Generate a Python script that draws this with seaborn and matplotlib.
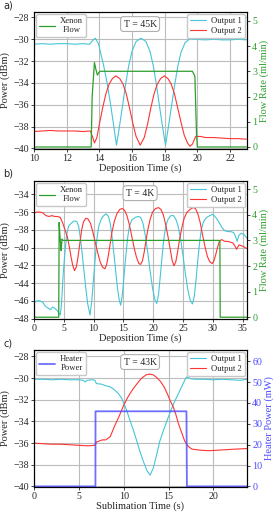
import matplotlib
matplotlib.use("Agg")
import matplotlib.pyplot as plt
import seaborn as sns

# ---------------- Panel a (T = 45K) ----------------
a_t_out1 = [10.0, 10.5, 11.0, 11.5, 12.0, 12.5, 13.0, 13.4, 13.6, 13.75, 13.95, 14.04, 14.25, 14.45, 14.65, 14.85,
            15.05, 15.2, 15.4, 15.6, 15.8, 16.0, 16.25, 16.55, 16.85, 17.1, 17.3, 17.5, 17.7, 17.9, 18.05, 18.2,
            18.4, 18.6, 18.8, 19.0, 19.25, 19.55, 19.8, 20.5, 21.0, 21.5, 22.0, 22.5, 23.0]
a_out1 = [-30.45, -30.4, -30.45, -30.4, -30.4, -30.45, -30.4, -30.45, -30.1, -29.9, -30.4, -31.0, -32.3, -33.8, -35.6, -37.6,
          -39.7, -38.3, -36.3, -34.2, -32.4, -31.1, -30.2, -29.9, -30.2, -31.1, -32.4, -34.2, -36.3, -38.3, -39.7, -38.3,
          -36.3, -34.3, -32.5, -31.2, -30.3, -29.95, -30.0, -30.05, -30.0, -30.05, -30.05, -30.0, -30.05]
a_t_out2 = [10.0, 10.5, 11.0, 11.5, 12.0, 12.5, 13.0, 13.45, 13.6, 13.7, 13.85, 14.0, 14.2, 14.4, 14.6, 14.8, 15.0, 15.25,
            15.45, 15.65, 15.85, 16.05, 16.25, 16.5, 16.75, 16.95, 17.15, 17.35, 17.55, 17.75, 17.98, 18.2, 18.4,
            18.6, 18.8, 19.0, 19.2, 19.4, 19.55, 19.7, 19.9, 20.2, 20.5, 21.0, 21.5, 22.0, 22.5, 23.0]
a_out2 = [-38.45, -38.4, -38.35, -38.4, -38.4, -38.4, -38.45, -38.4, -39.0, -39.5, -39.0, -37.8, -36.3, -35.0, -34.1, -33.6, -33.35, -33.6,
          -34.1, -35.0, -36.3, -37.7, -38.9, -39.7, -39.0, -37.8, -36.3, -35.0, -34.1, -33.6, -33.35, -33.6, -34.1,
          -35.0, -36.3, -37.6, -38.8, -39.5, -39.8, -39.6, -38.9, -38.9, -39.0, -39.0, -39.05, -39.1, -39.1, -39.15]
a_t_flow = [10.0, 13.5, 13.56, 13.7, 13.78, 13.88, 13.97, 14.05, 19.7, 19.85, 19.95, 20.0, 23.0]
a_flow = [0.0, 0.0, 2.0, 3.35, 3.1, 2.85, 2.95, 3.0, 3.0, 2.8, 0.5, 0.0, 0.0]

# ---------------- Panel b (T = 4K) ----------------
b_t_out1 = [0, 0.5, 1.0, 1.5, 1.9, 2.3, 2.8, 3.1, 3.4, 3.9, 4.2, 4.4, 4.6, 4.9, 5.2, 5.5, 5.8, 6.2, 6.6, 6.9, 7.2, 7.5,
            7.8, 8.1, 8.4, 8.7, 9.0, 9.4, 9.7, 10.0, 10.3, 10.6, 10.9, 11.3, 11.7, 12.1, 12.5, 12.8, 13.1, 13.4,
            13.7, 14.0, 14.3, 14.55, 14.8, 15.1, 15.4, 15.7, 16.0, 16.4, 17.0, 17.5, 17.9, 18.3, 18.7, 19.1, 19.5,
            19.9, 20.3, 20.6, 20.9, 21.2, 21.5, 21.8, 22.1, 22.5, 23.0, 23.4, 23.8, 24.2, 24.6, 25.0, 25.4, 25.8,
            26.2, 26.6, 26.9, 27.2, 27.5, 27.8, 28.1, 28.5, 29.0, 29.5, 30.0, 30.5, 31.0, 31.5, 32.0, 32.5, 33.0,
            33.5, 33.8, 34.1, 34.4, 34.8, 35.2, 35.7, 36.0]
b_out1 = [-46.2, -46.0, -46.0, -46.2, -46.6, -46.8, -47.0, -46.7, -46.8, -47.1, -47.4, -47.6, -46.5, -43.0, -40.5, -38.5, -37.6, -37.3, -37.05, -37.0, -37.1, -37.6,
          -39.0, -40.8, -42.7, -44.6, -46.3, -47.6, -46.0, -43.5, -41.0, -38.8, -37.5, -36.8, -36.4, -36.2, -36.5, -37.3, -38.8, -40.6,
          -42.6, -44.5, -45.9, -46.5, -45.5, -43.3, -41.0, -39.0, -37.6, -36.9, -36.6, -36.5, -36.6, -37.3, -38.7, -40.6, -42.7,
          -44.6, -45.9, -46.3, -45.3, -43.2, -41.0, -39.0, -37.6, -36.8, -36.4, -36.4, -36.8, -37.6, -39.0, -40.9, -42.9, -44.7,
          -45.9, -46.35, -45.5, -43.6, -41.4, -39.4, -37.9, -37.0, -36.6, -36.4, -36.25, -36.6, -37.1, -37.7, -38.1, -38.2, -38.2,
          -38.3, -38.7, -39.3, -38.6, -38.4, -38.5, -38.9, -39.1]
b_t_out2 = [0, 0.5, 1.0, 1.5, 2.0, 2.5, 3.0, 3.5, 4.0, 4.4, 4.8, 5.2, 5.6, 5.9, 6.2, 6.5, 6.8, 7.1, 7.4, 7.7, 8.0, 8.3,
            8.7, 9.1, 9.5, 9.9, 10.3, 10.7, 11.1, 11.5, 11.9, 12.2, 12.5, 12.8, 13.1, 13.5, 13.9, 14.4, 14.8, 15.2,
            15.6, 16.0, 16.4, 16.8, 17.2, 17.6, 17.9, 18.2, 18.5, 18.8, 19.1, 19.5, 19.9, 20.4, 20.9, 21.3, 21.7,
            22.1, 22.5, 22.9, 23.2, 23.5, 23.8, 24.1, 24.4, 24.8, 25.2, 25.7, 26.2, 26.7, 27.1, 27.5, 27.9, 28.3,
            28.7, 29.1, 29.5, 29.9, 30.2, 30.5, 30.8, 31.1, 31.5, 32.0, 32.5, 33.0, 33.4, 33.7, 34.0, 34.4, 34.8,
            35.2, 35.7, 36.0]
b_out2 = [-36.1, -36.0, -36.0, -36.1, -36.4, -36.5, -36.4, -36.5, -36.5, -36.6, -37.2, -38.0, -38.8, -39.8, -41.0, -42.0, -42.6, -42.2, -41.0, -39.5, -38.0, -37.1,
          -36.7, -36.8, -37.3, -38.3, -39.5, -40.6, -41.6, -42.2, -42.4, -41.9, -40.8, -39.5, -38.2, -37.0, -36.2, -35.7, -35.6, -35.8,
          -36.4, -37.4, -38.7, -40.0, -41.1, -41.8, -41.9, -41.5, -40.5, -39.2, -38.0, -36.8, -36.0, -35.6, -35.5, -35.7, -36.3,
          -37.4, -38.8, -40.3, -41.5, -42.05, -41.6, -40.5, -39.2, -37.8, -36.7, -36.0, -35.7, -35.5, -35.6, -36.2, -37.2, -38.6,
          -39.9, -41.0, -41.6, -41.8, -41.5, -40.8, -40.0, -39.3, -39.1, -39.3, -39.3, -39.4, -39.5, -39.8, -40.2, -39.7, -39.8,
          -39.9, -40.1, -40.1]
b_t_flow = [0, 4.15, 4.22, 4.32, 4.45, 4.55, 4.7, 4.85, 31.2, 31.25, 36.0]
b_flow = [0.0, 0.0, 3.7, 3.3, 2.9, 2.6, 3.05, 3.0, 3.0, 0.0, 0.0]

# ---------------- Panel c (T = 43K) ----------------
c_t_out1 = [0, 1, 2, 3, 4, 5, 5.5, 5.7, 5.9, 6.5, 6.8, 6.95, 7.5, 8.0, 8.5, 9.0, 9.4, 9.8, 10.3, 10.7, 11.1, 11.5, 11.8,
            12.2, 12.6, 12.95, 13.3, 13.7, 14.0, 14.4, 14.8, 15.2, 15.6, 16.0, 16.4, 16.8, 17.0, 17.5, 18, 19, 20, 21,
            22, 23, 23.75]
c_out1 = [-30.1, -30.1, -30.15, -30.1, -30.15, -30.15, -30.2, -30.35, -30.2, -30.15, -30.2, -30.5, -30.55, -30.7, -30.8, -31.1, -31.4, -31.9, -32.9, -33.9, -34.85, -35.9, -36.75,
          -37.7, -38.55, -38.95, -38.3, -37.0, -35.9, -34.9, -34.0, -33.1, -32.3, -31.6, -30.9, -30.2, -29.9, -30.05, -30.1, -30.1, -30.15, -30.1,
          -30.15, -30.2, -30.1]
c_t_out2 = [0, 1, 2, 3, 4, 5, 6, 6.8, 6.95, 7.3, 7.6, 8.0, 8.5, 9.0, 9.5, 10.0, 10.5, 11.0, 11.5, 12.0, 12.5, 12.9, 13.3,
            13.7, 14.1, 14.5, 14.9, 15.2, 15.5, 15.8, 16.1, 16.5, 16.8, 17.2, 17.6, 18.5, 19.5, 20.5, 21.5, 22.5, 23.75]
c_out2 = [-36.0, -36.05, -36.1, -36.1, -36.15, -36.2, -36.25, -36.2, -35.9, -35.8, -35.7, -35.7, -35.4, -34.4, -33.5, -32.5, -31.7, -31.05, -30.5, -30.0, -29.7, -29.62, -29.7,
          -29.95, -30.3, -30.8, -31.5, -32.1, -32.6, -33.3, -34.2, -35.1, -35.8, -36.3, -36.55, -36.65, -36.7, -36.65, -36.6, -36.55, -36.5]
c_t_heat = [0, 6.85, 6.86, 17.0, 17.05, 23.75]
c_heat = [0.0, 0.0, 36.0, 36.0, 0.0, 0.0]

CYAN = "#45c6d6"
RED = "#ff3333"
GREEN = "#2e9e2e"
BLUE = "#4a4aff"

sns.set_style("ticks")
plt.rcParams["font.family"] = ["Liberation Serif", "DejaVu Serif"]
plt.rcParams["axes.unicode_minus"] = True

fig = plt.figure(figsize=(2.74, 5.12), dpi=100)
W, H = 274.0, 512.0


def panel(top_px, bot_px, t1, o1, t2, o2, ts, s, xlim, ylim, y2lim, xticks, yticks, y2ticks,
          scolor, slw, salpha, sname, s_axlabel, tlabel, xlabel, letter):
    left, right = 34.0, 247.0
    ax = fig.add_axes([left / W, (H - bot_px) / H, (right - left) / W, (bot_px - top_px) / H])
    ax2 = ax.twinx()
    sns.lineplot(x=t1, y=o1, ax=ax, color=CYAN, lw=0.8, legend=False, estimator=None, sort=False)
    sns.lineplot(x=t2, y=o2, ax=ax, color=RED, lw=0.8, legend=False, estimator=None, sort=False)
    sns.lineplot(x=ts, y=s, ax=ax2, color=scolor, lw=slw, alpha=salpha, legend=False, estimator=None, sort=False)
    ax.set_xlim(*xlim)
    ax.set_ylim(*ylim)
    ax2.set_ylim(*y2lim)
    ax.set_xticks(xticks)
    ax.set_yticks(yticks)
    ax2.set_yticks(y2ticks)
    ax.grid(True, color="#bcbcbc", lw=0.8)
    ax.set_axisbelow(True)
    ax2.grid(False)
    for a in (ax, ax2):
        for sp in a.spines.values():
            sp.set_color("black")
            sp.set_linewidth(0.8)
        a.tick_params(labelsize=7.2, length=2.5, width=0.6, pad=1.2, direction="out")
    ax2.tick_params(axis="y", labelcolor=scolor)
    ax.set_xlabel(xlabel, fontsize=7.5, labelpad=0)
    ax.set_ylabel("Power (dBm)", fontsize=7.5, labelpad=2)
    ax2.set_ylabel(s_axlabel, fontsize=7.5, color=scolor, labelpad=1.5)
    l1, l2 = ax.get_lines()[0], ax.get_lines()[1]
    ls = ax2.get_lines()[0]
    leg1 = ax2.legend([ls], [sname], loc="upper left", fontsize=6.2, handlelength=1.8,
                      borderaxespad=0.25, borderpad=0.35, handletextpad=0.6, fancybox=True,
                      framealpha=1, edgecolor="#c8c8c8")
    for t in leg1.get_texts():
        t.set_multialignment("center")
    leg2 = ax2.legend([l1, l2], ["Output 1", "Output 2"], loc="upper right", fontsize=6.2,
                      handlelength=1.8, borderaxespad=0.25, borderpad=0.35, handletextpad=0.6,
                      labelspacing=0.25, fancybox=True, framealpha=1, edgecolor="#c8c8c8")
    ax2.add_artist(leg1)
    ax2.text(0.498, 0.912, tlabel, transform=ax.transAxes, ha="center", va="center", fontsize=7,
             bbox=dict(boxstyle="round,pad=0.3", fc="white", ec="#b0b0b0", lw=0.8))
    fig.text(3 / W, 1 - (top_px - 7) / H, letter, fontsize=7, family="DejaVu Sans", ha="left", va="center")
    return ax, ax2


panel(12, 149, a_t_out1, a_out1, a_t_out2, a_out2, a_t_flow, a_flow,
      (10, 23.04), (-40.05, -27.5), (-0.08, 5.35),
      [10, 12, 14, 16, 18, 20, 22], [-40, -38, -36, -34, -32, -30, -28], [0, 1, 2, 3, 4, 5],
      GREEN, 0.9, 1.0, "Xenon\nFlow", "Flow Rate (ml/min)", "T = 45K", "Deposition Time (s)", "a)")

panel(181, 319, b_t_out1, b_out1, b_t_out2, b_out2, b_t_flow, b_flow,
      (0, 35.75), (-48.05, -32.5), (-0.07, 5.32),
      [0, 5, 10, 15, 20, 25, 30, 35], [-48, -46, -44, -42, -40, -38, -36, -34], [0, 1, 2, 3, 4, 5],
      GREEN, 0.9, 1.0, "Xenon\nFlow", "Flow Rate (ml/min)", "T = 4K", "Deposition Time (s)", "b)")

panel(350, 487, c_t_out1, c_out1, c_t_out2, c_out2, c_t_heat, c_heat,
      (0, 23.75), (-40.05, -27.4), (-0.3, 65.4),
      [0, 5, 10, 15, 20], [-40, -38, -36, -34, -32, -30, -28], [0, 10, 20, 30, 40, 50, 60],
      BLUE, 1.3, 0.8, "Heater\nPower", "Heater Power (mW)", "T = 43K", "Sublimation Time (s)", "c)")

fig.savefig("out.png", dpi=100)
